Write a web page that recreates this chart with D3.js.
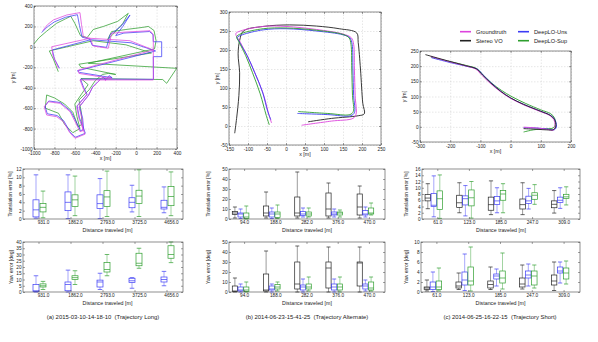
<!DOCTYPE html>
<html>
<head>
<meta charset="utf-8">
<script src="https://cdn.jsdelivr.net/npm/d3@7"></script>
<style>
  body { margin: 0; background: #fff; }
</style>
</head>
<body>
<div id="chart"></div>
<script>
// ---- trajectories (metres) ----
var trajA_gt = [[-915,158],[-870,215],[-811,263],[-680,312],[-550,335],[-535,220],[-517,100],[-452,84],[-419,8],[-273,-14],[-240,133],[-100,145],[136,158],[168,120],[168,-324],[-200,-324],[-550,-324],[-520,-400],[-484,-471],[-582,-586],[-560,-700],[-517,-814],[-501,-855],[-599,-895],[-650,-840],[-713,-732],[-778,-684],[-876,-667],[-900,-586],[-860,-537],[-745,-553],[-647,-635],[-598,-732],[-550,-830],[-520,-820],[-530,-700],[-560,-590],[-470,-480],[-430,-400],[-380,-350],[-330,-300],[-300,-330],[-270,-290],[-240,-310],[-560,-260],[-566,-227],[168,-31],[-60,60],[-452,84],[-827,1],[-815,-80],[-760,-210]];
var trajA_uns = [[-925,140],[-870,195],[-800,245],[-690,290],[-575,315],[-555,210],[-530,95],[-455,75],[-430,15],[-290,-5],[-255,120],[-150,200],[-60,312],[-130,200],[-200,110],[-120,135],[130,150],[165,120],[168,50],[250,50],[250,-96],[168,-96],[170,-318],[-200,-316],[-545,-316],[-515,-395],[-480,-465],[-578,-578],[-555,-695],[-512,-805],[-498,-846],[-595,-885],[-648,-832],[-710,-722],[-775,-672],[-870,-655],[-892,-580],[-855,-530],[-742,-545],[-642,-628],[-592,-722],[-545,-820],[-514,-810],[-524,-695],[-555,-585],[-465,-472],[-425,-392],[-375,-342],[-325,-295],[-295,-322],[-265,-282],[-235,-302],[-555,-250],[-575,-235],[190,-40],[-50,40],[-445,70],[-820,-30],[-800,-120],[-750,-210]];
var trajA_sup = [[-1000,30],[-950,90],[-880,150],[-780,230],[-690,275],[-640,300],[-600,230],[-545,110],[-480,90],[-420,170],[-320,200],[-180,250],[-77,328],[-130,230],[-230,120],[-280,70],[-240,150],[-100,170],[60,190],[120,200],[175,160],[195,60],[180,-20],[-468,-161],[397,-210],[299,-357],[260,-320],[-540,-310],[-470,-370],[-540,-470],[-600,-560],[-580,-680],[-550,-800],[-620,-840],[-700,-760],[-760,-650],[-890,-600],[-876,-471],[-800,-500],[-700,-560],[-620,-640],[-570,-780],[-530,-760],[-540,-620],[-560,-520],[-460,-420],[-400,-330],[-330,-270],[-270,-260],[-200,-270],[-540,-200],[-560,-170],[150,-60],[-100,20],[-420,60],[-850,-40],[-810,-120],[-762,-243]];

var trajB_gt = [[-38,8],[-45,30],[-60,85],[-80,135],[-100,180],[-120,220],[-132,243],[-120,250],[-60,262],[0,262],[80,254],[150,242],[172,232],[178,215],[180,150],[182,80],[184,30],[176,20],[120,13],[41,2]];
var trajB_vo = [[-135,-19],[-130,20],[-124,80],[-122,140],[-126,190],[-122,225],[-112,250],[-60,262],[10,266],[80,263],[140,256],[186,245],[190,220],[196,150],[202,60],[206,32],[190,27],[120,20],[58,11]];
var trajB_uns = [[-40,17],[-48,38],[-62,90],[-82,140],[-102,185],[-122,220],[-128,233],[-115,240],[-60,253],[0,256],[80,250],[150,240],[168,232],[174,215],[176,150],[178,80],[180,35],[170,27],[110,30],[30,33]];
var trajB_sup = [[-44,3],[-52,28],[-68,85],[-88,140],[-106,185],[-124,222],[-130,235],[-118,243],[-60,256],[0,258],[80,252],[150,241],[166,232],[171,215],[173,150],[175,80],[177,38],[168,30],[110,33],[32,38]];

var trajC_gt = [[-265,232],[-200,214],[-145,200],[-115,190],[-95,170],[-68,144],[-35,117],[-2,95],[42,73],[97,51],[130,37],[143,24],[147,2],[141,-11],[120,-8],[87,-4],[43,-1]];
var trajC_vo = [[-282,238],[-210,218],[-150,202],[-113,191],[-93,171],[-66,145],[-34,118],[-1,96],[43,74],[98,52],[131,38],[145,25],[150,3],[143,-9],[120,-10],[87,-8],[43,-6]];
var trajC_uns = [[-262,228],[-200,212],[-143,199],[-110,190],[-90,170],[-63,144],[-32,117],[0,95],[44,74],[98,52],[132,38],[146,25],[152,3],[146,-9],[120,-7],[87,-4],[43,-3]];
var trajC_sup = [[-264,230],[-200,215],[-146,202],[-112,192],[-92,172],[-65,146],[-30,120],[5,99],[50,77],[100,56],[133,43],[145,30],[148,8],[140,-4],[110,-6],[75,-10],[43,-17]];

// ---- box plots: [low whisker, q1, median, q3, high whisker] ----
var distA = ["931.0", "1862.0", "2793.0", "3725.0", "4656.0"];
var distB = ["94.0", "188.0", "282.0", "376.0", "470.0"];
var distC = ["61.0", "123.0", "185.0", "247.0", "309.0"];

var transA_uns = [[0.2,0.5,2.2,4.6,10.6],[0.1,2.0,4.0,6.5,10.6],[0.1,2.5,3.7,5.8,9.7],[1.7,2.7,4.0,5.1,8.1],[1.5,2.4,2.8,4.5,7.7]];
var transA_sup = [[0.3,1.7,2.8,3.7,6.7],[0.8,3.0,4.6,5.8,10.3],[0.6,3.0,5.3,6.8,11.5],[0.6,3.7,5.5,6.9,11.8],[0.8,3.2,5.4,7.8,11.3]];
var yawA_uns = [[0,0.5,1,6,13],[0,1,6,8,17.5],[2,4,8,9.5,15],[3,7.5,9,11,11.5],[5,8,10,12,16.5]];
var yawA_sup = [[2,4,5,6.5,8.5],[6,10,11.5,13,17],[13,16,18,23.5,30],[19,21,23,31,35],[23.5,27,30,37,40]];

var transB_vo = [[1,4.5,6,7.5,12],[1,3,6,13,27],[1,3,6,22,47],[1,3,10,26,36],[1,4,12,25,33]];
var transB_uns = [[0.5,2,5,6,10],[0.5,2,5,7,11],[2,3.5,5,7.5,11],[2,4,5,7,10],[2,4,5,8.5,12]];
var transB_sup = [[0,0.5,2,6,13],[0.5,1.5,5,7,14],[2,3,5,7,11],[2,4,6,7,9],[4,5,6,11,16]];
var yawB_vo = [[0,0.5,1,6,14],[0,1,2,18,41],[0,3,8,30,46],[0,4,24,30,45],[0,6,29,30,45]];
var yawB_uns = [[0,1,2,5,8],[0,2,3,6,8],[0,2,5,7,13],[0,2,5,8,13],[1,3,6,8,12]];
var yawB_sup = [[0,0.5,2,5,10],[1,3,5,7.5,10],[1,3,5,8,15],[0,2,5,8,15],[1,2,4,10,15]];

var transC_vo = [[3.3,5.8,6.7,7.8,11.3],[2.0,3.7,5.2,7.6,11.6],[1.4,2.8,4.6,7.0,12.2],[1.4,3.2,4.6,6.4,11.6],[1.9,3.6,4.7,5.8,9.1]];
var transC_uns = [[0.7,4.0,4.4,8.2,13.8],[1.0,4.5,6.5,7.4,10.7],[2.0,4.6,5.8,7.2,10.0],[3.2,5.0,5.8,7.3,9.8],[3.4,5.3,6.0,7.0,10.0]];
var transC_sup = [[0.2,3.0,6.5,9.0,14.1],[0.3,4.2,6.8,9.3,12.0],[2.0,6.0,8.0,9.1,11.3],[4.7,6.3,7.6,8.4,11.0],[4.5,6.6,7.1,7.9,10.3]];
var yawC_vo = [[0.2,0.5,0.8,1.0,2.4],[0.5,0.8,1.2,2.0,3.8],[0.5,0.8,1.5,2.2,5.0],[0.6,1.0,1.6,2.8,5.4],[0.3,1.4,2.2,3.4,6.0]];
var yawC_uns = [[0.1,0.5,1.0,2.0,4.0],[0.3,1.4,2.4,4.0,7.6],[1.2,2.6,3.2,3.6,4.6],[1.2,2.8,3.4,4.2,5.6],[1.8,3.8,4.2,5.0,6.0]];
var yawC_sup = [[0.2,0.5,1.0,2.2,4.8],[0.2,1.4,2.2,5.0,9.0],[0.6,1.8,2.8,4.2,7.8],[0.8,1.4,3.2,4.2,5.4],[1.6,2.6,3.8,4.8,6.2]];

var legendNames = ["Groundtruth", "Stereo VO", "DeepLO-Uns", "DeepLO-Sup"];
var captions = ["(a) 2015-03-10-14-18-10  (Trajectory Long)", "(b) 2014-06-23-15-41-25  (Trajectory Alternate)", "(c) 2014-06-25-16-22-15  (Trajectory Short)"];

var FONT = "'Liberation Sans', Arial, sans-serif";
var cGT = "#dd44dd", cVO = "#222222", cUns = "#3c3cf5", cSup = "#2e9e2e";

var svg = d3.select("#chart").append("svg")
  .attr("width", 598).attr("height", 342)
  .style("font-family", FONT);
svg.append("rect").attr("width", 598).attr("height", 342).attr("fill", "#fff");

function styleAxis(sel, fs) {
  sel.attr("font-family", FONT);
  sel.select(".domain").remove();
  sel.selectAll("line").attr("stroke", "#444").attr("stroke-width", 0.5);
  sel.selectAll("text").attr("font-size", fs).attr("fill", "#222");
}

function drawTraj(o) {
  var x = d3.scaleLinear().domain(o.xd).range([o.x0, o.x1]);
  var y = d3.scaleLinear().domain(o.yd).range([o.y1, o.y0]);
  var g = svg.append("g");
  var w = o.x1 - o.x0, h = o.y1 - o.y0;

  // dashed grid
  g.append("g").attr("transform", "translate(0," + o.y1 + ")")
    .call(d3.axisBottom(x).tickValues(o.xt).tickSize(-h).tickFormat(""))
    .call(function (s) { s.select(".domain").remove(); })
    .selectAll("line").attr("stroke", "#cfcfcf").attr("stroke-width", 0.5).attr("stroke-dasharray", "1.5,1.5");
  g.append("g").attr("transform", "translate(" + o.x0 + ",0)")
    .call(d3.axisLeft(y).tickValues(o.yt).tickSize(-w).tickFormat(""))
    .call(function (s) { s.select(".domain").remove(); })
    .selectAll("line").attr("stroke", "#cfcfcf").attr("stroke-width", 0.5).attr("stroke-dasharray", "1.5,1.5");

  var line = d3.line().x(function (d) { return x(d[0]); }).y(function (d) { return y(d[1]); })
    .curve(o.smooth ? d3.curveCatmullRom.alpha(0.5) : d3.curveLinear);
  o.series.forEach(function (s) {
    g.append("path").datum(s.pts).attr("d", line)
      .attr("fill", "none").attr("stroke", s.c).attr("stroke-width", o.lw)
      .attr("stroke-linejoin", "round");
  });

  g.append("rect").attr("x", o.x0).attr("y", o.y0).attr("width", w).attr("height", h)
    .attr("fill", "none").attr("stroke", "#444").attr("stroke-width", 0.6);

  var fmt = function (d) { return String(d); };
  g.append("g").attr("transform", "translate(0," + o.y1 + ")")
    .call(d3.axisBottom(x).tickValues(o.xt).tickSize(-2).tickPadding(2.6).tickFormat(fmt))
    .call(styleAxis, 4.7);
  g.append("g").attr("transform", "translate(0," + o.y0 + ")")
    .call(d3.axisTop(x).tickValues(o.xt).tickSize(-2).tickFormat(""))
    .call(styleAxis, 4.7);
  g.append("g").attr("transform", "translate(" + o.x0 + ",0)")
    .call(d3.axisLeft(y).tickValues(o.yt).tickSize(-2).tickPadding(1.5).tickFormat(fmt))
    .call(styleAxis, 4.7);
  g.append("g").attr("transform", "translate(" + o.x1 + ",0)")
    .call(d3.axisRight(y).tickValues(o.yt).tickSize(-2).tickFormat(""))
    .call(styleAxis, 4.7);

  g.append("text").attr("x", (o.x0 + o.x1) / 2).attr("y", o.y1 + 11)
    .attr("text-anchor", "middle").attr("font-size", 5.3).attr("fill", "#222").text("x [m]");
  g.append("text").attr("transform", "translate(" + o.ylx + "," + ((o.y0 + o.y1) / 2) + ") rotate(-90)")
    .attr("text-anchor", "middle").attr("font-size", 5.3).attr("fill", "#222").text("y [m]");
}

function drawBoxes(o) {
  var x = d3.scaleBand().domain(o.cats).range([o.x0, o.x1]);
  var y = d3.scaleLinear().domain([0, o.ymax]).range([o.y1, o.y0]);
  var g = svg.append("g");
  var n = o.series.length, bw = o.bw;
  var mid = function (c) { return x(c) + x.bandwidth() / 2; };

  o.series.forEach(function (s, k) {
    var off = o.shift + (k - (n - 1) / 2) * o.step;
    var bg = g.append("g").attr("fill", "none").attr("stroke", s.c).attr("stroke-width", 0.7)
      .selectAll("g").data(s.vals).join("g")
      .attr("transform", function (d, i) { return "translate(" + (mid(o.cats[i]) + off) + ",0)"; });
    // whiskers
    bg.append("line").attr("y1", function (d) { return y(d[0]); }).attr("y2", function (d) { return y(d[1]); })
      .attr("stroke-opacity", 0.75).attr("stroke-width", 0.6);
    bg.append("line").attr("y1", function (d) { return y(d[3]); }).attr("y2", function (d) { return y(d[4]); })
      .attr("stroke-opacity", 0.75).attr("stroke-width", 0.6);
    bg.append("line").attr("x1", -bw * 0.38).attr("x2", bw * 0.38)
      .attr("y1", function (d) { return y(d[0]); }).attr("y2", function (d) { return y(d[0]); });
    bg.append("line").attr("x1", -bw * 0.38).attr("x2", bw * 0.38)
      .attr("y1", function (d) { return y(d[4]); }).attr("y2", function (d) { return y(d[4]); });
    // box + median
    bg.append("rect").attr("x", -bw / 2).attr("width", bw)
      .attr("y", function (d) { return y(d[3]); })
      .attr("height", function (d) { return y(d[1]) - y(d[3]); });
    bg.append("line").attr("x1", -bw / 2).attr("x2", bw / 2)
      .attr("y1", function (d) { return y(d[2]); }).attr("y2", function (d) { return y(d[2]); });
  });

  g.append("rect").attr("x", o.x0).attr("y", o.y0).attr("width", o.x1 - o.x0).attr("height", o.y1 - o.y0)
    .attr("fill", "none").attr("stroke", "#444").attr("stroke-width", 0.6);

  g.append("g").attr("transform", "translate(0," + o.y1 + ")")
    .call(d3.axisBottom(x).tickSize(-2).tickPadding(2).tickSizeOuter(0))
    .call(styleAxis, 4.7)
    .selectAll("text").attr("dx", o.lshift);
  g.append("g").attr("transform", "translate(0," + o.y0 + ")")
    .call(d3.axisTop(x).tickSize(-2).tickFormat("").tickSizeOuter(0))
    .call(styleAxis, 4.7);
  g.append("g").attr("transform", "translate(" + o.x0 + ",0)")
    .call(d3.axisLeft(y).tickValues(o.yt).tickSize(-2).tickPadding(1.5))
    .call(styleAxis, 4.7);
  g.append("g").attr("transform", "translate(" + o.x1 + ",0)")
    .call(d3.axisRight(y).tickValues(o.yt).tickSize(-2).tickFormat(""))
    .call(styleAxis, 4.7);

  g.append("text").attr("x", (o.x0 + o.x1) / 2 + o.lshift).attr("y", o.y1 + 12.8)
    .attr("text-anchor", "middle").attr("font-size", 5.3).attr("fill", "#222").text("Distance traveled [m]");
  g.append("text").attr("transform", "translate(" + o.ylx + "," + ((o.y0 + o.y1) / 2) + ") rotate(-90)")
    .attr("text-anchor", "middle").attr("font-size", 5).attr("fill", "#222").text(o.ylabel);
}

// ---- trajectories ----
drawTraj({
  x0: 34, x1: 177, y0: 6, y1: 149, xd: [-1000, 400], yd: [-1000, 400],
  xt: d3.range(-1000, 401, 200), yt: d3.range(-1000, 401, 200), ylx: 15, lw: 0.75, smooth: false,
  series: [{ pts: trajA_sup, c: cSup }, { pts: trajA_uns, c: cUns }, { pts: trajA_gt, c: cGT }]
});
drawTraj({
  x0: 229, x1: 381, y0: 12, y1: 145, xd: [-150, 250], yd: [-50, 300],
  xt: d3.range(-150, 251, 50), yt: d3.range(-50, 301, 50), ylx: 219, lw: 0.9, smooth: true,
  series: [{ pts: trajB_vo, c: cVO }, { pts: trajB_gt, c: cGT }, { pts: trajB_uns, c: cUns }, { pts: trajB_sup, c: cSup }]
});
drawTraj({
  x0: 420, x1: 571, y0: 51, y1: 142, xd: [-300, 200], yd: [-50, 250],
  xt: d3.range(-300, 201, 100), yt: d3.range(-50, 251, 50), ylx: 406, lw: 0.9, smooth: true,
  series: [{ pts: trajC_sup, c: cSup }, { pts: trajC_uns, c: cUns }, { pts: trajC_gt, c: cGT }, { pts: trajC_vo, c: cVO }]
});

// legend
var legendColors = [cGT, cVO, cUns, cSup];
var lg = svg.append("g").selectAll("g").data(legendNames).join("g")
  .attr("transform", function (d, i) { return "translate(" + (i < 2 ? 460 : 518) + "," + (i % 2 === 0 ? 31.7 : 40.7) + ")"; });
lg.append("line").attr("x1", 0).attr("x2", 11).attr("stroke", function (d, i) { return legendColors[i]; }).attr("stroke-width", 1.6);
lg.append("text").attr("x", 16).attr("y", 2).attr("font-size", 5.7).attr("fill", "#222").text(function (d) { return d; });

// ---- box plots ----
drawBoxes({ x0: 23, x1: 183, y0: 169, y1: 219, ymax: 12, yt: d3.range(0, 13, 2), cats: distA, bw: 6, step: 7, shift: 0.5, lshift: 4.5, ylx: 12, ylabel: "Translation error [%]",
  series: [{ vals: transA_uns, c: cUns }, { vals: transA_sup, c: cSup }] });
drawBoxes({ x0: 23, x1: 183, y0: 242, y1: 292, ymax: 40, yt: d3.range(0, 41, 5), cats: distA, bw: 6, step: 7, shift: 0.5, lshift: 4.5, ylx: 12.5, ylabel: "Yaw error [deg]",
  series: [{ vals: yawA_uns, c: cUns }, { vals: yawA_sup, c: cSup }] });
drawBoxes({ x0: 229, x1: 385, y0: 169, y1: 219, ymax: 50, yt: d3.range(0, 51, 10), cats: distB, bw: 5.2, step: 5.7, shift: -4, lshift: 0, ylx: 210, ylabel: "Translation error [%]",
  series: [{ vals: transB_vo, c: cVO }, { vals: transB_uns, c: cUns }, { vals: transB_sup, c: cSup }] });
drawBoxes({ x0: 229, x1: 385, y0: 242, y1: 292, ymax: 50, yt: d3.range(0, 51, 10), cats: distB, bw: 5.2, step: 5.7, shift: -4, lshift: 0, ylx: 210, ylabel: "Yaw error [deg]",
  series: [{ vals: yawB_vo, c: cVO }, { vals: yawB_uns, c: cUns }, { vals: yawB_sup, c: cSup }] });
drawBoxes({ x0: 422, x1: 580, y0: 169, y1: 219, ymax: 16, yt: d3.range(0, 17, 2), cats: distC, bw: 5.5, step: 6, shift: -4, lshift: 0, ylx: 407.5, ylabel: "Translation error [%]",
  series: [{ vals: transC_vo, c: cVO }, { vals: transC_uns, c: cUns }, { vals: transC_sup, c: cSup }] });
drawBoxes({ x0: 421, x1: 580, y0: 242, y1: 292, ymax: 10, yt: d3.range(0, 11, 2), cats: distC, bw: 5.5, step: 6, shift: -4, lshift: 0, ylx: 407.5, ylabel: "Yaw error [deg]",
  series: [{ vals: yawC_vo, c: cVO }, { vals: yawC_uns, c: cUns }, { vals: yawC_sup, c: cSup }] });

// captions
svg.append("g").selectAll("text").data(captions).join("text")
  .attr("x", function (d, i) { return [103, 307, 500][i]; })
  .attr("y", 319)
  .attr("text-anchor", "middle").attr("font-size", 5.9).attr("fill", "#222")
  .style("white-space", "pre")
  .text(function (d) { return d; });
</script>
</body>
</html>
